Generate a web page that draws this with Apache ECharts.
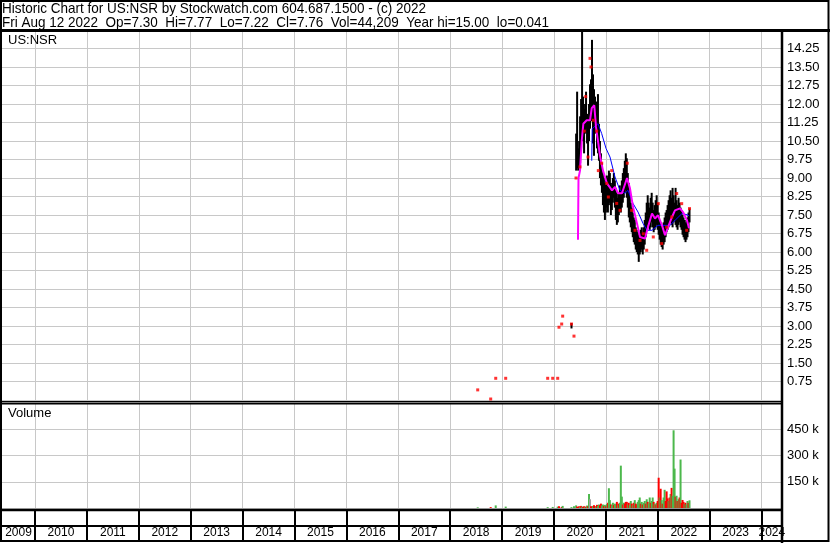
<!DOCTYPE html>
<html><head><meta charset="utf-8">
<script src="https://cdn.jsdelivr.net/npm/echarts@6/dist/echarts.min.js"></script>
<style>html,body{margin:0;padding:0;background:#fff}#c{width:830px;height:543px}</style>
</head><body><div id="c"></div>
<script>
// ---------- texts ----------
const headerLine1 = 'Historic Chart for US:NSR by Stockwatch.com 604.687.1500 - (c) 2022';
const headerLine2 = 'Fri Aug 12 2022  Op=7.30  Hi=7.77  Lo=7.22  Cl=7.76  Vol=44,209  Year hi=15.00  lo=0.041';
const symbolLabel = 'US:NSR';
const volumeLabel = 'Volume';
const yearLabels = ['2009','2010','2011','2012','2013','2014','2015','2016','2017','2018','2019','2020','2021','2022','2023','2024'];

// ---------- axis ranges (decimal years) ----------
const X_MIN = 2009.364, X_MAX = 2024.393;
const PRICE_MIN = 0, PRICE_MAX = 15, PRICE_STEP = 0.75;
const VOL_MIN = 0, VOL_MAX = 600000, VOL_STEP = 150000;

// ---------- weekly price bars (week ending Fridays from 2020-06-05) ----------
const weekStart = '2020-06-05';
const weekLow = [
9.3,9.4,9.3,9.4,9.6,10.2,10.8,10.5,10.0,10.8,
11.0,10.4,9.5,10.5,11.0,11.5,11.3,10.4,9.9,11.0,
10.8,10.2,10.0,9.7,9.0,8.7,8.4,7.9,7.6,7.3,
7.6,7.8,7.6,7.9,8.0,7.5,7.7,8.0,8.2,7.8,
7.3,7.1,7.2,7.5,7.7,7.6,7.8,8.0,8.2,8.4,
8.5,8.2,7.8,7.4,7.2,7.0,6.8,6.6,6.4,6.3,
6.1,6.0,5.9,5.6,5.9,6.0,6.1,5.9,6.1,6.3,
6.6,6.9,7.1,7.0,6.9,7.0,7.2,7.0,6.8,6.9,
7.0,7.1,6.9,6.7,6.5,6.3,6.2,6.1,6.3,6.4,
6.6,6.8,6.9,7.0,7.2,7.3,7.1,7.0,7.2,7.3,
7.1,7.0,6.9,7.1,7.2,7.0,6.9,6.7,6.6,6.5,
6.4,6.5,6.6,6.8,7.2];
const weekHigh = [
10.8,12.5,10.2,10.5,11.5,12.2,15.0,12.3,11.8,12.0,
12.5,11.6,11.4,12.0,12.8,13.0,14.6,13.2,12.6,12.3,
12.1,11.7,12.4,11.2,10.5,10.0,9.6,9.2,9.0,8.8,
8.9,9.1,9.0,9.3,9.2,8.8,8.7,9.0,9.2,8.9,
8.6,8.4,8.2,8.4,8.7,8.5,8.9,9.2,9.4,9.7,
10.0,9.8,9.2,8.8,8.4,8.0,7.8,7.6,7.4,7.3,
7.0,6.9,6.8,6.7,6.8,6.9,7.0,6.8,7.0,7.3,
7.6,8.0,8.3,8.0,7.8,8.2,8.4,8.0,7.7,7.9,
8.1,8.3,8.0,7.6,7.3,7.2,7.1,7.0,7.2,7.4,
7.6,7.7,7.9,8.1,8.3,8.5,8.2,8.6,8.3,8.0,
8.6,8.1,7.9,8.2,8.0,7.8,7.7,7.5,7.4,7.3,
7.2,7.3,7.4,7.6,7.77];
// weekly volume (thousands) and colour code: g = up, r = down, k = unchanged
const weekVolK = [
15,8,5,10,6,12,8,6,10,5,
8,14,10,80,50,10,8,12,16,10,
8,18,12,20,16,25,14,20,12,18,
10,22,30,113,45,20,15,30,18,25,
20,35,15,25,30,242,65,20,30,25,
35,35,20,30,15,40,25,15,30,45,
25,20,35,45,60,25,35,20,30,40,
25,50,35,25,60,30,40,60,35,25,
20,30,40,173,60,110,45,25,60,104,
40,95,55,40,60,80,115,70,444,225,
65,70,40,50,60,277,30,46,35,25,
30,20,40,30,44];
const weekVolDir = 'grrrgrgrrg'+'rgrgkrrgrr'+'grggrrggrg'+'rgrggrggrg'+'grgrgggrgr'+
                   'rrgrggrgrg'+'rrgggrgrgg'+'rgrggrggrg'+'rgrrgrgrgg'+'rrrgrgrggg'+
                   'rgrgrgrrrg'+'rggrg';

// early sparse trades (decimal year, low, high)
const earlyBars = [[2020.337, 2.9, 3.12]];
// early sparse volume (decimal year, thousands, dir)
const earlyVol = [[2018.530,4,'g'],[2018.780,5,'r'],[2018.877,15,'g'],[2019.069,8,'g'],[2019.878,5,'g'],
  [2019.975,6,'g'],[2020.071,8,'g'],[2020.096,10,'r'],[2020.148,6,'r'],[2020.167,12,'g'],[2020.337,5,'g'],[2020.385,10,'g']];

// red close marks (decimal year, price)
const redCloses = [
[2018.530,0.41],[2018.780,0.04],[2018.877,0.88],[2019.069,0.88],[2019.878,0.88],[2019.975,0.88],
[2020.071,0.88],[2020.096,2.95],[2020.148,3.08],[2020.167,3.40],[2020.337,3.08],[2020.385,2.59],
[2020.424,9.0],[2020.501,9.45],[2020.584,10.9],[2020.611,12.3],[2020.655,9.85],[2020.694,13.85],
[2020.713,13.5],[2020.757,11.34],[2020.823,10.9],[2020.854,9.3],[2020.919,9.6],[2021.015,8.78],
[2021.047,8.23],[2021.112,9.3],[2021.208,7.97],[2021.272,7.69],[2021.412,9.6],[2021.497,7.69],
[2021.561,6.88],[2021.657,6.47],[2021.721,6.74],[2021.786,6.07],[2021.913,6.61],[2022.010,7.96],
[2022.075,6.34],[2022.171,7.01],[2022.268,7.42],[2022.364,8.37],[2022.460,7.96],[2022.557,6.88],
[2022.611,7.76]];

// short moving average (magenta)
const maShort = [
[2020.462,6.5],[2020.472,9.0],[2020.501,9.3],[2020.534,10.5],[2020.565,11.2],[2020.630,11.34],
[2020.694,11.34],[2020.727,11.83],[2020.776,11.95],[2020.809,11.07],[2020.854,10.4],[2020.886,9.9],
[2020.944,9.3],[2021.021,8.78],[2021.118,8.5],[2021.175,8.64],[2021.233,8.38],[2021.310,8.38],
[2021.407,9.0],[2021.464,8.58],[2021.522,7.83],[2021.599,7.16],[2021.657,6.61],[2021.753,6.55],
[2021.811,7.01],[2021.888,7.56],[2021.946,7.36],[2022.004,7.49],[2022.081,7.08],[2022.139,6.68],
[2022.197,7.01],[2022.274,7.42],[2022.331,7.69],[2022.428,7.77],[2022.486,7.62],[2022.563,7.28],
[2022.601,6.96]];
// long moving average (blue)
const maLong = [
[2020.727,9.7],[2020.736,11.0],[2020.751,11.07],[2020.848,11.2],[2020.919,10.8],[2021.002,10.2],
[2021.079,9.85],[2021.175,9.04],[2021.272,8.5],[2021.368,8.38],[2021.426,8.5],[2021.522,7.97],
[2021.619,7.62],[2021.715,7.16],[2021.792,6.88],[2021.888,6.88],[2022.004,7.08],[2022.139,7.08],
[2022.235,7.08],[2022.331,7.28],[2022.466,7.56],[2022.582,7.5],[2022.601,7.45]];

// ---------- build ----------
function decYear(t){ const d=new Date(t); const y=d.getUTCFullYear();
  const s=Date.UTC(y,0,1), e=Date.UTC(y+1,0,1); return y+(t-s)/(e-s); }
const t0 = Date.parse(weekStart+'T00:00:00Z');
const weekX = weekLow.map((_,i)=>decYear(t0+i*7*86400000));
const COLORS = {g:'#4cb84c', r:'#ff0000', k:'#a0a0a0'};

const barData = weekX.map((x,i)=>[x, weekLow[i], weekHigh[i]]).concat(earlyBars);
const volData = earlyVol.map(v=>({value:[v[0], v[1]*1000], itemStyle:{color:COLORS[v[2]]}}))
  .concat(weekX.map((x,i)=>({value:[x, weekVolK[i]*1000], itemStyle:{color:COLORS[weekVolDir[i]]}})));

const yearBounds = yearLabels.slice(1).map(Number);
const yearMids = yearLabels.map(s=>{ const y=+s; const a=Math.max(y,X_MIN), b=Math.min(y+1,X_MAX); return (a+b)/2; });

const GRID = '#c8c8c8';
const FONT = '"Liberation Sans", Arial, sans-serif';
function xAx(gi, lineColor, lineW, labels){
  return {type:'value', gridIndex:gi, min:X_MIN, max:X_MAX,
    axisLine:{show:false},
    axisTick:{show:false, customValues:yearBounds},
    splitLine:{show:true, lineStyle:{color:lineColor, width:lineW}},
    axisLabel: labels ? {show:true, customValues:yearMids, margin:-14, fontSize:12, color:'#000', fontFamily:FONT,
        formatter:v=>String(Math.floor(v+1e-9))} : {show:false}};
}

const chart = echarts.init(document.getElementById('c'), null, {renderer:'canvas'});
const L = (x1,y1,x2,y2,w)=>({type:'line', z:100, shape:{x1,y1,x2,y2}, style:{stroke:'#000', lineWidth:w}});
chart.setOption({
  animation:false,
  backgroundColor:'#fff',
  grid:[
    {left:2, top:30, width:780, height:370},
    {left:2, top:403, width:780, height:105},
    {left:2, top:511, width:780, height:30}
  ],
  xAxis:[ xAx(0, GRID, 1, false), xAx(1, GRID, 1, false), xAx(2, '#000', 2, true) ],
  yAxis:[
    {type:'value', gridIndex:0, position:'right', min:PRICE_MIN, max:PRICE_MAX, interval:PRICE_STEP,
      axisLine:{show:false}, axisTick:{show:false},
      splitLine:{lineStyle:{color:GRID, width:1}},
      axisLabel:{showMinLabel:false, showMaxLabel:false, margin:5, fontSize:13, color:'#000', fontFamily:FONT,
        formatter:v=>v.toFixed(2)}},
    {type:'value', gridIndex:1, position:'right', min:VOL_MIN, max:VOL_MAX, interval:VOL_STEP,
      axisLine:{show:false}, axisTick:{show:false},
      splitLine:{lineStyle:{color:GRID, width:1}},
      axisLabel:{showMinLabel:false, showMaxLabel:false, margin:5, fontSize:13, color:'#000', fontFamily:FONT,
        formatter:v=>(v/1000)+' k'}},
    {type:'value', gridIndex:2, min:0, max:1, show:false}
  ],
  series:[
    {type:'bar', xAxisIndex:1, yAxisIndex:1, data:volData, barWidth:2, barGap:'-100%', z:3},
    {type:'custom', xAxisIndex:0, yAxisIndex:0, data:barData, encode:{x:0, y:[1,2]}, z:3,
      renderItem:(params, api)=>{
        const a = api.coord([api.value(0), api.value(1)]);
        const b = api.coord([api.value(0), api.value(2)]);
        return {type:'line', shape:{x1:a[0], y1:a[1], x2:b[0], y2:b[1]}, style:{stroke:'#000', lineWidth:2}};
      }},
    {type:'line', xAxisIndex:0, yAxisIndex:0, data:maLong, showSymbol:false, z:4,
      lineStyle:{color:'#0000ff', width:1}},
    {type:'line', xAxisIndex:0, yAxisIndex:0, data:maShort, showSymbol:false, z:5,
      lineStyle:{color:'#ff00ff', width:2}},
    {type:'scatter', xAxisIndex:0, yAxisIndex:0, data:redCloses, symbol:'rect', symbolSize:3, z:6,
      itemStyle:{color:'#ff0000'}}
  ],
  graphic:[
    {type:'text', x:2, y:1, scaleX:0.9, z:100, style:{text:headerLine1, font:'15px '+FONT, fill:'#000', textVerticalAlign:'top'}},
    {type:'text', x:2, y:15, scaleX:0.9, z:100, style:{text:headerLine2, font:'15px '+FONT, fill:'#000', textVerticalAlign:'top'}},
    {type:'text', x:8, y:34, z:100, style:{text:symbolLabel, font:'13px '+FONT, fill:'#000', textVerticalAlign:'top'}},
    {type:'text', x:8, y:407, z:100, style:{text:volumeLabel, font:'13px '+FONT, fill:'#000', textVerticalAlign:'top'}},
    L(0,30.5,830,30.5,3),
    L(782,30,782,543,2.5),
    L(0,401.5,782,401.5,1),
    L(0,403.5,782,403.5,2),
    L(0,510,782,510,2.5),
    L(0,526,782,526,2),
    {type:'rect', z:100, shape:{x:1, y:1, width:827.5, height:540}, style:{fill:null, stroke:'#000', lineWidth:2}}
  ]
});
</script></body></html>
